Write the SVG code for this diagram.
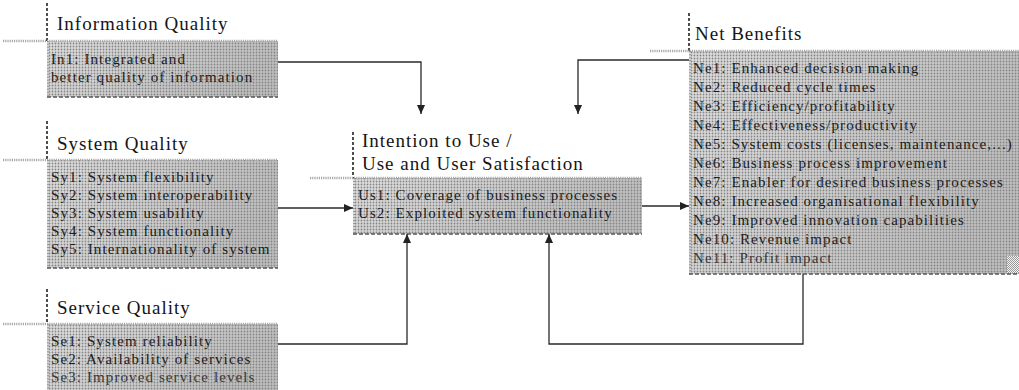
<svg xmlns="http://www.w3.org/2000/svg" width="1019" height="390" viewBox="0 0 1019 390">
  <defs>
    <!-- halftone dot screen used for the shaded item boxes -->
    <pattern id="dots" width="3" height="3" patternUnits="userSpaceOnUse">
      <circle cx="1.5" cy="1.5" r="0.9" fill="#858585"/>
    </pattern>
    <pattern id="checker" width="2" height="2" patternUnits="userSpaceOnUse">
      <rect width="2" height="2" fill="#f2f2f2"/>
      <rect width="1" height="1" fill="#9a9a9a"/>
      <rect x="1" y="1" width="1" height="1" fill="#9a9a9a"/>
    </pattern>
    <linearGradient id="shade" x1="0" y1="0" x2="1" y2="0.3">
      <stop offset="0" stop-color="#dedede"/>
      <stop offset="0.5" stop-color="#cfcfcf"/>
      <stop offset="1" stop-color="#bebebe"/>
    </linearGradient>
    <marker id="arrow" markerUnits="userSpaceOnUse" markerWidth="9" markerHeight="8" refX="9" refY="4" orient="auto">
      <path d="M0,0 L9,4 L0,8 z" fill="#222"/>
    </marker>
  </defs>
  <style>
    .title { font-family: "Liberation Serif", "Times New Roman", serif; font-size: 19px; letter-spacing: 1px; fill: #151515; }
    .item { font-family: "Liberation Serif", "Times New Roman", serif; font-size: 15px; letter-spacing: 1.1px; fill: #1c1c1c; }
    .faded { fill: #383838; }
    .tick { stroke: #222; stroke-width: 1.6; stroke-dasharray: 3 2; fill: none; }
    .rule { stroke: #a8a8a8; stroke-width: 2.4; stroke-dasharray: 1.2 1; fill: none; }
    .base { fill: url(#shade); }
    .screen { fill: url(#dots); }
    .edge { stroke: #555; stroke-width: 1.3; stroke-dasharray: 4 2; fill: none; }
    .side { stroke: #777; stroke-width: 1; stroke-dasharray: 1 2; fill: none; }
    .link { stroke: #2a2a2a; stroke-width: 1.3; fill: none; }
  </style>

  <rect width="1019" height="390" fill="#ffffff"/>

  <!-- Information Quality -->
  <g id="information-quality">
    <rect class="base" x="47" y="41" width="231" height="56"/>
    <rect class="screen" x="47" y="41" width="231" height="56"/>
    <line class="tick" x1="47" y1="3" x2="47" y2="41"/>
    <line class="rule" x1="3" y1="41" x2="278" y2="41"/>
    <line class="side" x1="48" y1="41" x2="48" y2="97"/>
    <line class="edge" x1="47" y1="97" x2="278" y2="97"/>
    <text class="title" x="57" y="30">Information Quality</text>
    <text class="item" x="51" y="64">In1: Integrated and</text>
    <text class="item" x="51" y="82">better quality of information</text>
  </g>

  <!-- System Quality -->
  <g id="system-quality">
    <rect class="base" x="47" y="160" width="231" height="108"/>
    <rect class="screen" x="47" y="160" width="231" height="108"/>
    <line class="tick" x1="47" y1="121" x2="47" y2="160"/>
    <line class="rule" x1="3" y1="160" x2="278" y2="160"/>
    <line class="side" x1="48" y1="160" x2="48" y2="268"/>
    <line class="edge" x1="47" y1="268" x2="278" y2="268"/>
    <text class="title" x="57" y="150">System Quality</text>
    <text class="item" x="51" y="182">Sy1: System flexibility</text>
    <text class="item" x="51" y="200">Sy2: System interoperability</text>
    <text class="item" x="51" y="218">Sy3: System usability</text>
    <text class="item" x="51" y="236">Sy4: System functionality</text>
    <text class="item" x="51" y="254">Sy5: Internationality of system</text>
  </g>

  <!-- Service Quality -->
  <g id="service-quality">
    <rect class="base" x="47" y="324" width="231" height="66"/>
    <rect class="screen" x="47" y="324" width="231" height="66"/>
    <line class="tick" x1="47" y1="289" x2="47" y2="324"/>
    <line class="rule" x1="3" y1="324" x2="278" y2="324"/>
    <line class="side" x1="48" y1="324" x2="48" y2="390"/>
    <text class="title" x="57" y="314">Service Quality</text>
    <text class="item" x="51" y="346">Se1: System reliability</text>
    <text class="item" x="51" y="364">Se2: Availability of services</text>
    <text class="item faded" x="51" y="382">Se3: Improved service levels</text>
  </g>

  <!-- Intention to Use / Use and User Satisfaction -->
  <g id="use-satisfaction">
    <rect class="base" x="353" y="178" width="289" height="56"/>
    <rect class="screen" x="353" y="178" width="289" height="56"/>
    <line class="tick" x1="353" y1="132" x2="353" y2="178"/>
    <line class="rule" x1="310" y1="178" x2="642" y2="178"/>
    <line class="side" x1="354" y1="178" x2="354" y2="234"/>
    <line class="edge" x1="353" y1="234" x2="642" y2="234"/>
    <text class="title" x="362" y="147">Intention to Use /</text>
    <text class="title" x="362" y="170">Use and User Satisfaction</text>
    <text class="item" x="358" y="200">Us1: Coverage of business processes</text>
    <text class="item" x="358" y="218">Us2: Exploited system functionality</text>
  </g>

  <!-- Net Benefits -->
  <g id="net-benefits">
    <rect class="base" x="689" y="51" width="330" height="223"/>
    <rect class="screen" x="689" y="51" width="330" height="223"/>
    <rect x="1007" y="256" width="12" height="17" fill="url(#checker)"/>
    <line class="tick" x1="689" y1="13" x2="689" y2="51"/>
    <line class="rule" x1="650" y1="51" x2="1019" y2="51"/>
    <line class="side" x1="690" y1="51" x2="690" y2="274"/>
    <line class="edge" x1="689" y1="274" x2="1019" y2="274"/>
    <text class="title" x="695" y="40">Net Benefits</text>
    <text class="item" x="693" y="73">Ne1: Enhanced decision making</text>
    <text class="item" x="693" y="92">Ne2: Reduced cycle times</text>
    <text class="item" x="693" y="111">Ne3: Efficiency/profitability</text>
    <text class="item" x="693" y="130">Ne4: Effectiveness/productivity</text>
    <text class="item" x="693" y="149">Ne5: System costs (licenses, maintenance,...)</text>
    <text class="item" x="693" y="168">Ne6: Business process improvement</text>
    <text class="item" x="693" y="187">Ne7: Enabler for desired business processes</text>
    <text class="item" x="693" y="206">Ne8: Increased organisational flexibility</text>
    <text class="item" x="693" y="225">Ne9: Improved innovation capabilities</text>
    <text class="item" x="693" y="244">Ne10: Revenue impact</text>
    <text class="item faded" x="693" y="263">Ne11: Profit impact</text>
  </g>

  <!-- connectors -->
  <g id="connectors">
    <path class="link" d="M278,62 H421 V114" marker-end="url(#arrow)"/>
    <path class="link" d="M689,60 H578 V114" marker-end="url(#arrow)"/>
    <path class="link" d="M278,208 H353" marker-end="url(#arrow)"/>
    <path class="link" d="M642,206 H689" marker-end="url(#arrow)"/>
    <path class="link" d="M278,344 H407 V234" marker-end="url(#arrow)"/>
    <path class="link" d="M803,274 V344 H549 V234" marker-end="url(#arrow)"/>
  </g>
</svg>
